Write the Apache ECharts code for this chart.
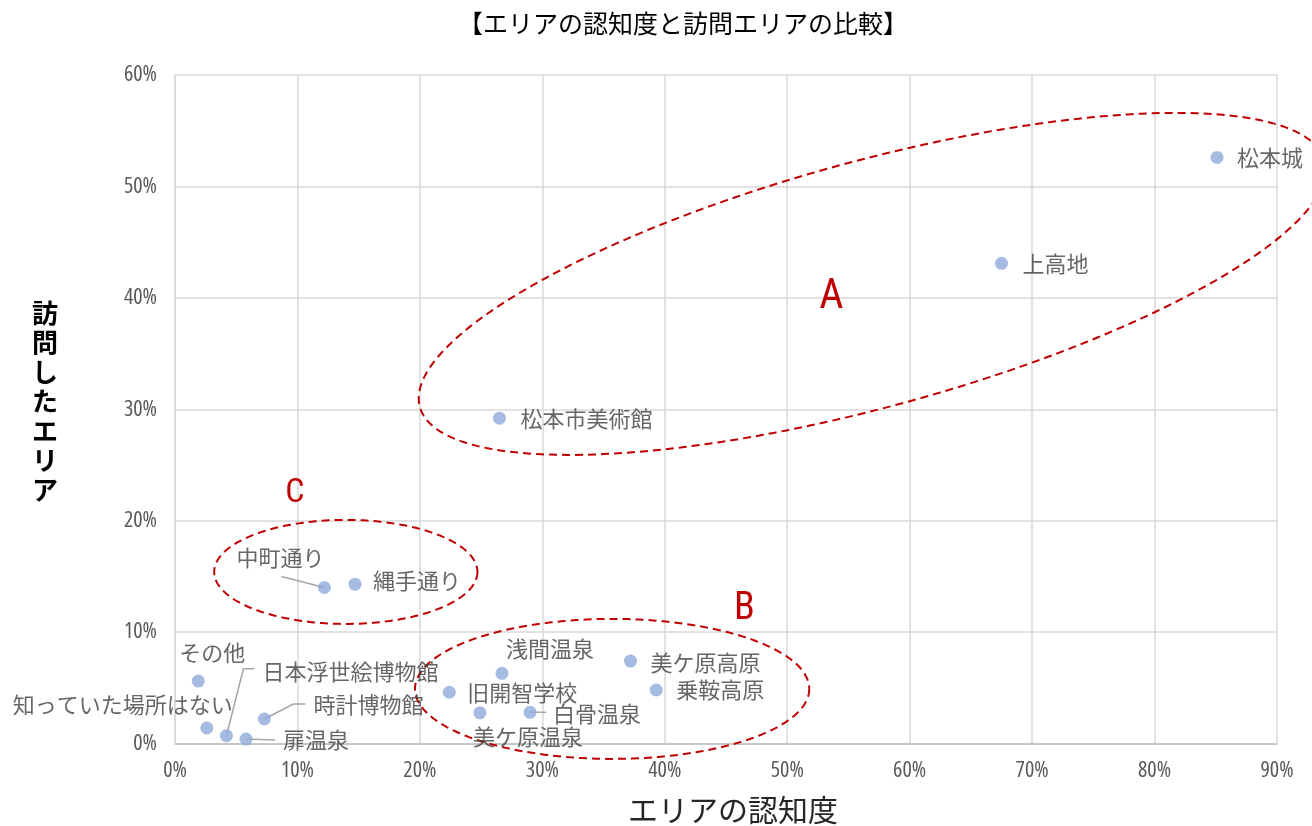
<!DOCTYPE html>
<html><head><meta charset="utf-8">
<script src="https://cdn.jsdelivr.net/npm/echarts@6/dist/echarts.min.js"></script>
<style>html,body{margin:0;padding:0;background:#fff}#c{width:1312px;height:826px}</style>
</head><body><div id="c"></div>
<script>
// ---- data ----
const areaNames = ['松本城','上高地','松本市美術館','縄手通り','中町通り','その他','知っていた場所はない','日本浮世絵博物館','時計博物館','扉温泉','旧開智学校','浅間温泉','美ケ原温泉','白骨温泉','美ケ原高原','乗鞍高原'];
const awareness = [85.1,67.5,26.5,14.7,12.2,1.9,2.6,4.2,7.3,5.8,22.4,26.7,24.9,29.0,37.2,39.3];
const visited   = [52.6,43.1,29.2,14.3,14.0,5.6,1.4,0.7,2.2,0.4,4.6,6.3,2.75,2.8,7.4,4.8];
const xTicks = [0,10,20,30,40,50,60,70,80,90];
const yTicks = [0,10,20,30,40,50,60];
// cluster annotations (data coordinates)
const clusterNames = ['A','B','C'];
const clusterAxisEnds = [[[20.0,30.2],[93.9,52.3]], [[19.6,4.9],[51.8,4.9]], [[3.2,15.4],[24.7,15.4]]];
const clusterLetterPos = [[53.6,40.0],[46.5,12.0],[9.8,22.4]];

// ---- styling / label placement ----
const clusterMinorPx = [123, 70, 52];
const clusterLetterSize = [42, 38, 34];
const labelPlacement = {
  '松本城':[20,0,'left'], '上高地':[21,0,'left'], '松本市美術館':[21,0,'left'],
  '縄手通り':[18,-4,'left'], '中町通り':[-44,-30,'center'], 'その他':[14,-28,'center'],
  '知っていた場所はない':[26,-23,'right'], '日本浮世絵博物館':[36,-64,'left'],
  '時計博物館':[49,-14,'left'], '扉温泉':[37,1,'left'], '旧開智学校':[18,0,'left'],
  '浅間温泉':[4,-25,'left'], '美ケ原温泉':[-7,24,'left'], '白骨温泉':[23,1,'left'],
  '美ケ原高原':[20,2,'left'], '乗鞍高原':[20,0,'left']
};
// leader line bends, pixel offsets from the point
const leaderShapes = {
  '中町通り':[[0,0],[-43,-11]],
  '日本浮世絵博物館':[[0,0],[17,-67],[28,-67]],
  '時計博物館':[[0,0],[29,-15],[41,-15]],
  '扉温泉':[[0,0],[29,1]],
  '白骨温泉':[[0,0],[16,0]]
};
const leaderNames = Object.keys(leaderShapes);

const cjk = '"Noto Sans CJK JP", "Noto Sans", sans-serif';
const cond = '"Open Sans", sans-serif';

const chart = echarts.init(document.getElementById('c'), null, {renderer:'canvas'});
const points = areaNames.map((n,i)=>({name:n, value:[awareness[i], visited[i]]}));

chart.setOption({
  animation:false,
  backgroundColor:'#ffffff',
  title:{text:'【エリアの認知度と訪問エリアの比較】', left:458, top:11, padding:0,
    textStyle:{fontFamily:cjk, fontSize:25, fontWeight:'normal', color:'#000'}},
  grid:{left:175, right:35, top:75, bottom:82.5, containLabel:false, outerBoundsMode:'none'},
  xAxis:{type:'value', min:xTicks[0], max:xTicks[xTicks.length-1], interval:xTicks[1]-xTicks[0],
    name:'エリアの認知度', nameLocation:'middle', nameGap:51,
    nameTextStyle:{fontFamily:cjk, fontSize:30, color:'#262626', padding:[0,0,0,14]},
    axisLine:{show:true, lineStyle:{color:'#bfbfbf', width:1.5}}, axisTick:{show:false},
    axisLabel:{formatter:'{value}%', fontFamily:cond, fontWeight:'condensed', fontSize:22, color:'#595959', margin:16},
    splitLine:{show:true, lineStyle:{color:'#d9d9d9', width:1.5}}},
  yAxis:{type:'value', min:yTicks[0], max:yTicks[yTicks.length-1], interval:yTicks[1]-yTicks[0],
    name:'訪問したエリア'.split('').join('\n') + '\n{s|}', nameLocation:'middle', nameGap:117, nameRotate:0,
    nameTextStyle:{fontFamily:cjk, fontSize:26, fontWeight:'bold', color:'#000', lineHeight:29.5,
      rich:{s:{lineHeight:16, fontSize:10}}},
    axisLine:{show:true, lineStyle:{color:'#d9d9d9', width:1.5}}, axisTick:{show:false},
    axisLabel:{formatter:'{value}%', fontFamily:cond, fontWeight:'condensed', fontSize:22, color:'#595959', margin:18},
    splitLine:{show:true, lineStyle:{color:'#d9d9d9', width:1.5}}},
  series:[
    {type:'custom', silent:true, z:1, clip:false,
      data: clusterNames.map((n,i)=>[i,0]),
      renderItem:function(params, api){
        const i = params.dataIndex;
        const p1 = api.coord(clusterAxisEnds[i][0]), p2 = api.coord(clusterAxisEnds[i][1]);
        const cx=(p1[0]+p2[0])/2, cy=(p1[1]+p2[1])/2;
        const a=Math.hypot(p2[0]-p1[0], p2[1]-p1[1])/2;
        const ang=Math.atan2(p2[1]-p1[1], p2[0]-p1[0]);
        const b=clusterMinorPx[i];
        const pts=[];
        for(let k=0;k<=240;k++){
          const t=k/240*2*Math.PI, ex=a*Math.cos(t), ey=b*Math.sin(t);
          pts.push([cx+ex*Math.cos(ang)-ey*Math.sin(ang), cy+ex*Math.sin(ang)+ey*Math.cos(ang)]);
        }
        const lp=api.coord(clusterLetterPos[i]);
        return {type:'group', children:[
          {type:'polyline', shape:{points:pts}, style:{stroke:'#c00000', lineWidth:2, lineDash:[8,5], fill:null}},
          {type:'text', x:lp[0], y:lp[1], style:{text:clusterNames[i], fill:'#c00000', fontSize:clusterLetterSize[i], fontFamily:'Roboto, sans-serif', fontWeight:'condensed', align:'center', verticalAlign:'middle'}}
        ]};
      }},
    {type:'custom', silent:true, z:2, clip:false,
      data: leaderNames.map(n=>{const i=areaNames.indexOf(n); return [awareness[i], visited[i]];}),
      renderItem:function(params, api){
        const c = api.coord([api.value(0), api.value(1)]);
        const shape = leaderShapes[leaderNames[params.dataIndex]];
        return {type:'polyline', shape:{points: shape.map(p=>[c[0]+p[0], c[1]+p[1]])},
          style:{stroke:'#a6a6a6', lineWidth:1.5, fill:null}};
      }},
    {type:'scatter', z:3, symbol:'circle', symbolSize:13, data:points,
      itemStyle:{color:'#8eaadb'},
      label:{show:true, formatter:'{b}', position:'right', fontFamily:cjk, fontSize:22, color:'#404040'},
      labelLayout:function(p){
        const pl = labelPlacement[areaNames[p.dataIndex]];
        const cx = p.rect.x + p.rect.width/2, cy = p.rect.y + p.rect.height/2;
        return {x:cx+pl[0], y:cy+pl[1], align:pl[2], verticalAlign:'middle'};
      },
      emphasis:{disabled:true}}
  ]
});
</script></body></html>
